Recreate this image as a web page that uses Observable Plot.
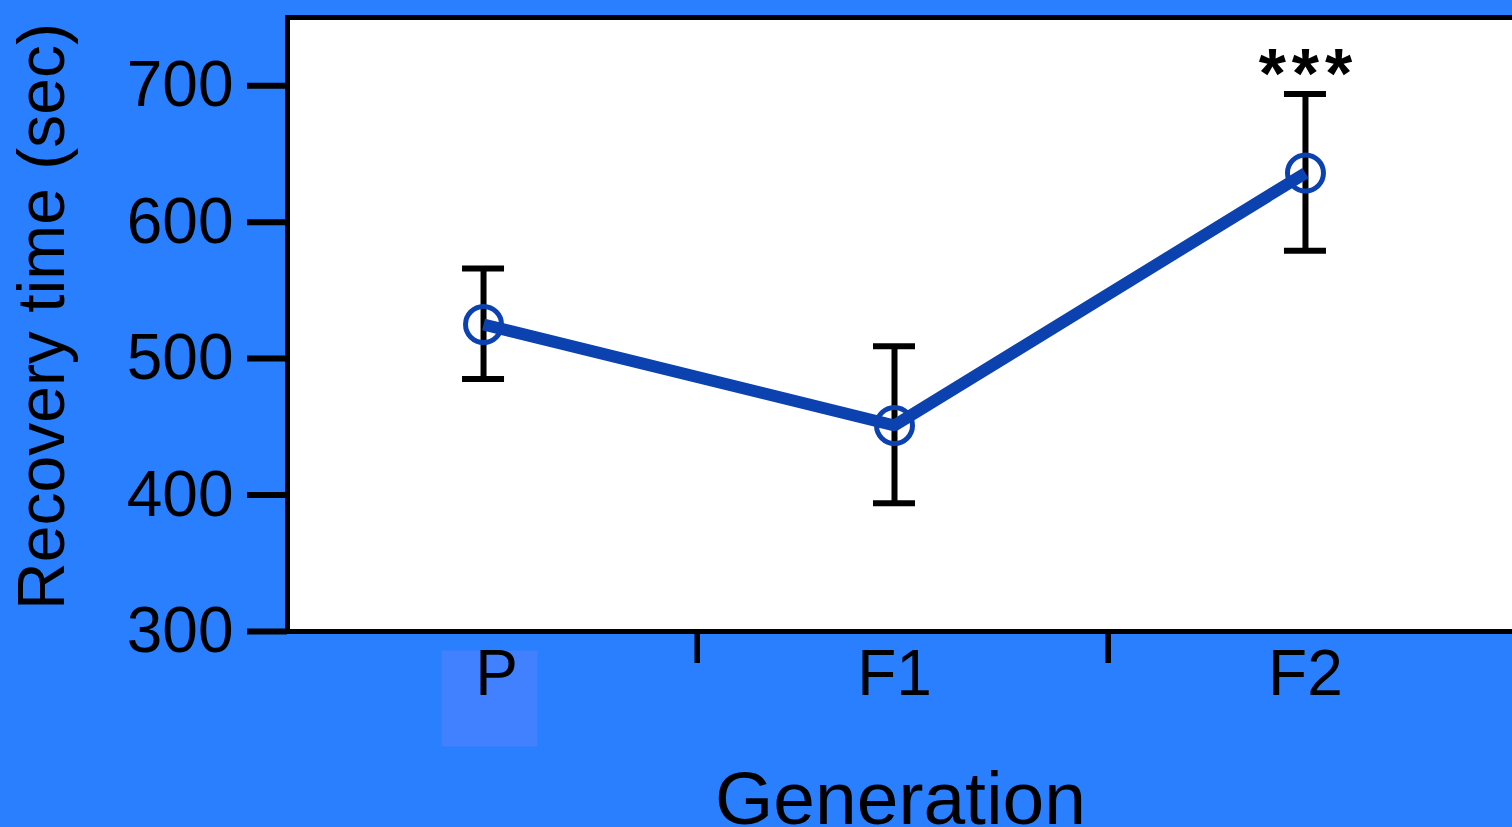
<!DOCTYPE html>
<html>
<head>
<meta charset="utf-8">
<script src="https://cdn.jsdelivr.net/npm/d3@7"></script>
<script src="https://cdn.jsdelivr.net/npm/@observablehq/plot@0.6"></script>
<style>
  html, body { margin: 0; padding: 0; overflow: hidden; background: #2a7fff; width: 1512px; height: 827px; }
  #chart { width: 1531px; }
</style>
</head>
<body>
<div id="chart"></div>
<script>
// Data
const generations = ["P", "F1", "F2"];
const meanRecovery = [525, 451, 636];
const lowerBound = [485, 394, 579];
const upperBound = [566, 509, 694];
const significance = ["", "", "***"];
const yTickValues = [300, 400, 500, 600, 700];
const xTickValues = [1.52, 2.52];
const yLabel = "Recovery time (sec)";
const xLabel = "Generation";

const rows = generations.map((g, k) => ({
  i: k + 1,
  gen: g,
  mean: meanRecovery[k],
  lo: lowerBound[k],
  hi: upperBound[k],
  sig: significance[k]
}));

const lineBlue = "#0b42b0";

const plot = Plot.plot({
  width: 1531,
  height: 827,
  marginLeft: 287,
  marginRight: 0,
  marginTop: 17,
  marginBottom: 196,
  style: {background: "#2a7fff", fontFamily: "'Liberation Sans', Arial, Helvetica, sans-serif", color: "black", overflow: "visible"},
  x: {type: "linear", domain: [0.523, 3.55]},
  y: {domain: [300, 750]},
  marks: [
    Plot.frame({fill: "white", stroke: "black", strokeWidth: 5}),
    Plot.axisY({ticks: yTickValues, tickSize: 40, tickPadding: 14, fontSize: 64, strokeWidth: 6, label: null}),
    Plot.axisX({ticks: xTickValues, tickSize: 32, tickFormat: () => "", strokeWidth: 5.5, label: null}),
    // highlight square behind "P"
    Plot.dot(rows.filter(d => d.i === 1), {x: "i", frameAnchor: "bottom", dy: 67, dx: 6, symbol: "square", r: 54.2, fill: "#4180ff", stroke: "none"}),
    // category labels
    Plot.text(rows.filter(d => d.i === 1), {x: "i", text: "gen", frameAnchor: "bottom", dy: 63, dx: 13, lineAnchor: "bottom", fontSize: 64}),
    Plot.text(rows.filter(d => d.i !== 1), {x: "i", text: "gen", frameAnchor: "bottom", dy: 63, lineAnchor: "bottom", fontSize: 64}),
    // error bars
    Plot.ruleX(rows, {x: "i", y1: "lo", y2: "hi", stroke: "black", strokeWidth: 6}),
    Plot.ruleY(rows, {y: "lo", x1: "i", x2: "i", insetLeft: -21, insetRight: -21, stroke: "black", strokeWidth: 6}),
    Plot.ruleY(rows, {y: "hi", x1: "i", x2: "i", insetLeft: -21, insetRight: -21, stroke: "black", strokeWidth: 6}),
    // means
    Plot.dot(rows, {x: "i", y: "mean", r: 18, stroke: lineBlue, strokeWidth: 5, fill: "none"}),
    Plot.line(rows, {x: "i", y: "mean", stroke: lineBlue, strokeWidth: 12, strokeLinecap: "butt", strokeLinejoin: "miter"}),
    // significance stars
    Plot.text(rows, {x: "i", y: "hi", text: d => d.sig.split("").join("\u200A"), lineAnchor: "bottom", dy: 4, fontSize: 70, fontWeight: "bold"}),
    // axis titles
    Plot.text([yLabel], {text: d => d, frameAnchor: "left", rotate: -90, dx: -224, dy: -8, lineAnchor: "bottom", textAnchor: "middle", fontSize: 66}),
    Plot.text([xLabel], {text: d => d, frameAnchor: "bottom", dx: -9, dy: 192, lineAnchor: "bottom", textAnchor: "middle", fontSize: 75})
  ]
});

document.getElementById("chart").appendChild(plot);
</script>
</body>
</html>
